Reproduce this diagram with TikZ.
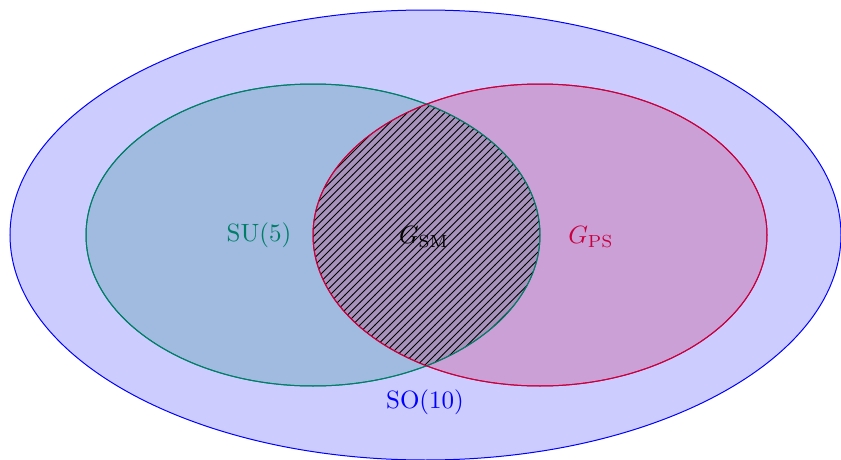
\documentclass[tikz,border=0pt]{standalone}
\usetikzlibrary{patterns}
\definecolor{sucol}{RGB}{0,126,104}
\definecolor{pscol}{RGB}{200,0,62}
\begin{document}
\begin{tikzpicture}[x=0.4pt,y=-0.4pt,
  outerset/.style={draw=blue,fill=blue!20,line width=0.4pt},
  suset/.style={draw=sucol,fill=sucol,fill opacity=0.21,draw opacity=1,line width=0.4pt},
  psset/.style={draw=pscol,fill=pscol,fill opacity=0.21,draw opacity=1,line width=0.4pt},
  lbl/.style={inner sep=0pt,font=\normalsize}]
\useasboundingbox (0,0) rectangle (841,460);
\draw[outerset] (425.5,235) ellipse [x radius=415.5, y radius=225];
\draw[suset] (313,235) ellipse [x radius=227, y radius=151];
\draw[psset] (540,235) ellipse [x radius=227, y radius=151];
\begin{scope}
  \clip (313,235) ellipse [x radius=227, y radius=151];
  \fill[pattern=north east lines] (540,235) ellipse [x radius=227, y radius=151];
\end{scope}
\draw[sucol,line width=0.4pt] (313,235) ellipse [x radius=227, y radius=151];
\draw[pscol,line width=0.4pt] (540,235) ellipse [x radius=227, y radius=151];
\node[lbl,text=sucol] (su) at (259,235) {SU(5)};
\node[lbl] (sm) at (424,237) {$G_{\mathrm{SM}}$};
\node[lbl,text=pscol] (ps) at (591,237) {$G_{\mathrm{PS}}$};
\node[lbl,text=blue] (so) at (425,402) {SO(10)};
\end{tikzpicture}
\end{document}
